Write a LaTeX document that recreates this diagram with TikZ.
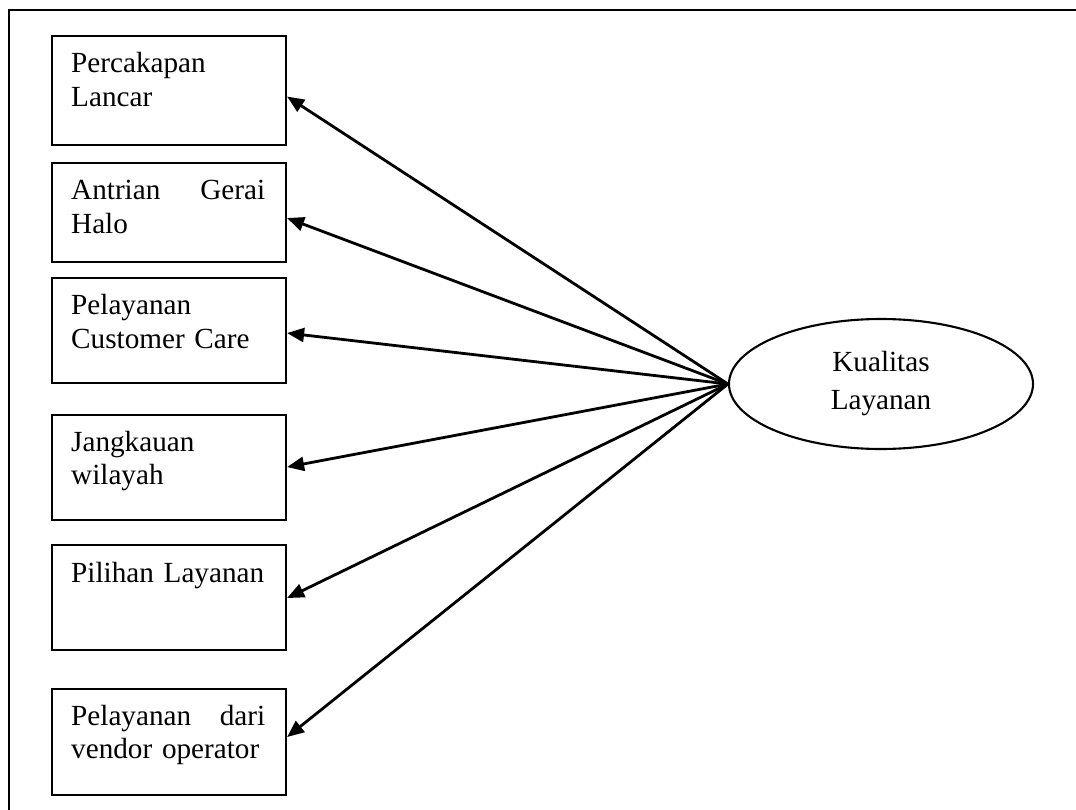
\documentclass[tikz,border=0pt]{standalone}
\usepackage{fontspec}
\setmainfont{Liberation Serif}
\usetikzlibrary{arrows.meta,shapes.geometric}
\begin{document}
\begin{tikzpicture}[x=1pt,y=-1pt,
  frame/.style={line width=2.2pt},
  itembox/.style={draw,line width=2.1pt,rectangle,minimum width=234pt,anchor=north west,inner sep=0pt},
  itemtext/.style={anchor=base west,text width=194pt,align=left,inner sep=0pt,
    font=\fontsize{29.2}{33.5}\selectfont},
  latent/.style={draw,line width=2.1pt,ellipse,minimum width=304pt,minimum height=130pt,
    inner sep=0pt,align=center,font=\fontsize{29.2}{38}\selectfont},
  link/.style={line width=2.8pt,-{Triangle[length=17pt,width=14pt]}}]
\useasboundingbox (0,0) rectangle (1076,810);
\draw[frame] (9,810) -- (9,10) -- (1076,10);

\node[itembox,minimum height=109pt] (b1) at (51,35) {};
\node[itembox,minimum height=99pt]  (b2) at (51,162) {};
\node[itembox,minimum height=105pt] (b3) at (51,277) {};
\node[itembox,minimum height=105pt] (b4) at (51,414) {};
\node[itembox,minimum height=105pt] (b5) at (51,544) {};
\node[itembox,minimum height=106pt] (b6) at (51,688) {};

\node[itemtext] (t1) at (71,73)  {Percakapan\\Lancar};
\node[itemtext] (t2) at (71,200) {Antrian\hfill Gerai\\Halo};
\node[itemtext] (t3) at (71,315) {Pelayanan\\Customer Care};
\node[itemtext] (t4) at (71,451) {Jangkauan\\wilayah};
\node[itemtext] (t5) at (71,582) {Pilihan Layanan};
\node[itemtext] (t6) at (71,725) {Pelayanan\hfill dari\\vendor operator};

\node[latent] (k) at (881,384) {Kualitas\\Layanan};

\draw[link] (k.west) -- ([yshift=-6pt]b1.east);
\draw[link] (k.west) -- ([yshift=-5.5pt]b2.east);
\draw[link] (k.west) -- ([yshift=-2.5pt]b3.east);
\draw[link] (k.west) -- ([yshift=0.5pt]b4.east);
\draw[link] (k.west) -- ([yshift=-0.5pt]b5.east);
\draw[link] (k.west) -- ([yshift=5pt]b6.east);
\end{tikzpicture}
\end{document}
